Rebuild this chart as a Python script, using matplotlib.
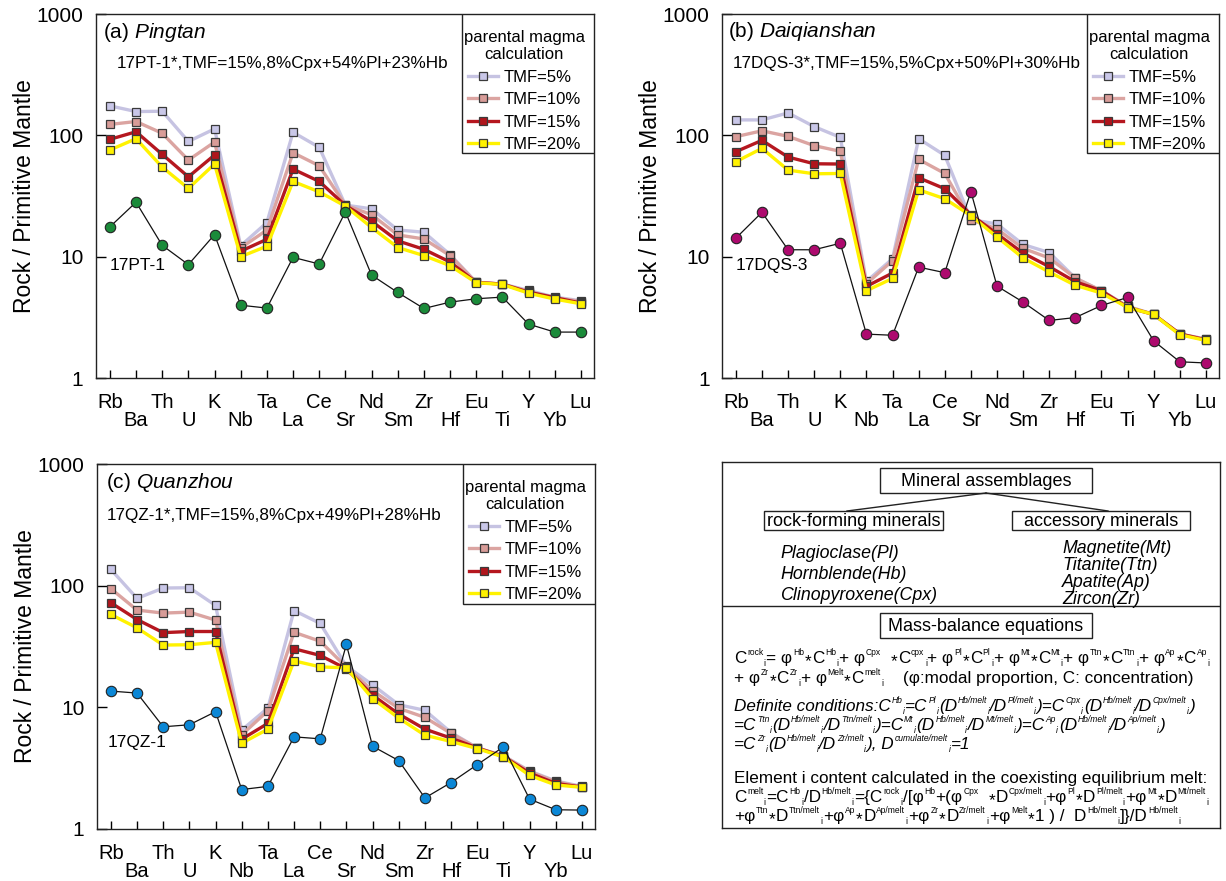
import re
import matplotlib
matplotlib.use("Agg")
import matplotlib.pyplot as plt
from matplotlib.lines import Line2D
from matplotlib.patches import Rectangle
from matplotlib.ticker import NullLocator
from matplotlib.transforms import IdentityTransform

plt.rcParams['font.family'] = ['Liberation Sans', 'DejaVu Sans']
plt.rcParams['mathtext.fontset'] = 'custom'
plt.rcParams['mathtext.rm'] = 'Liberation Sans'
plt.rcParams['mathtext.it'] = 'Liberation Sans:italic'
plt.rcParams['mathtext.bf'] = 'Liberation Sans:bold'

elements = ["Rb", "Ba", "Th", "U", "K", "Nb", "Ta", "La", "Ce", "Sr",
            "Nd", "Sm", "Zr", "Hf", "Eu", "Ti", "Y", "Yb", "Lu"]
tmf_labels = ["TMF=5%", "TMF=10%", "TMF=15%", "TMF=20%"]

# (a) Pingtan
pt_sample = [17.6, 28.1, 12.4, 8.6, 15.2, 3.98, 3.77, 9.87, 8.7, 23.4,
             7.05, 5.07, 3.74, 4.22, 4.5, 4.64, 2.78, 2.39, 2.39]
pt_tmf5 = [175, 157, 158, 89, 113, 12.3, 19.1, 106, 79.6, 26.6,
           24.8, 16.6, 15.9, 10.4, 6.14, 5.94, 5.27, 4.64, 4.33]
pt_tmf10 = [123, 130, 104, 62.5, 88, 11.8, 16.6, 71.9, 56.1, 26.6,
            22.2, 15.1, 14.0, 10.2, 6.14, 5.94, 5.17, 4.6, 4.27]
pt_tmf15 = [92.7, 107, 69.7, 45.5, 68.8, 11.1, 13.9, 52.7, 41.7, 26.4,
            19.6, 13.5, 11.5, 9.03, 6.14, 5.94, 5.1, 4.6, 4.14]
pt_tmf20 = [75.7, 93.8, 54.7, 36.5, 58, 10.0, 12.2, 41.7, 34.2, 26.1,
            17.4, 11.9, 10.2, 8.43, 6.1, 5.9, 5.0, 4.47, 4.09]

# (b) Daiqianshan
dqs_sample = [14.2, 23.2, 11.4, 11.4, 12.9, 2.3, 2.25, 8.2, 7.38, 34.4,
              5.72, 4.22, 2.98, 3.15, 3.96, 4.61, 2.02, 1.36, 1.33]
dqs_tmf5 = [134, 134, 153, 118, 96.2, 6.25, 9.62, 93.8, 68.4, 20.2,
            18.6, 12.6, 10.8, 6.66, 5.24, 3.89, 3.34, 2.3, 2.09]
dqs_tmf10 = [97.5, 109, 98.1, 82.2, 73.8, 5.98, 9.27, 63.4, 48.5, 20.2,
             16.9, 11.7, 9.75, 6.66, 5.24, 3.89, 3.34, 2.3, 2.09]
dqs_tmf15 = [73.3, 90.9, 66.2, 58.3, 58, 5.69, 7.33, 44.7, 36.3, 22.2,
             15.4, 10.7, 8.27, 6.21, 5.24, 3.81, 3.34, 2.31, 2.06]
dqs_tmf20 = [60.6, 78.1, 51.7, 48.2, 48.5, 5.24, 6.62, 35.6, 30.0, 21.8,
             14.5, 9.75, 7.47, 5.8, 5.01, 3.81, 3.34, 2.27, 2.04]

# (c) Quanzhou
qz_sample = [13.6, 13.1, 6.92, 7.19, 9.21, 2.11, 2.24, 5.72, 5.51, 32.9,
             4.79, 3.65, 1.8, 2.41, 3.38, 4.73, 1.76, 1.44, 1.43]
qz_tmf5 = [136, 78.6, 95.6, 96.2, 68.8, 6.5, 9.87, 62.5, 48.9, 21.8,
           15.3, 10.5, 9.45, 6.21, 4.64, 3.99, 3.0, 2.48, 2.24]
qz_tmf10 = [94.4, 63, 59.5, 60.6, 52.1, 5.94, 9.38, 41.4, 34.9, 21.4,
            13.7, 9.81, 8.27, 6.1, 4.64, 3.99, 2.96, 2.45, 2.22]
qz_tmf15 = [72.4, 52.7, 41.1, 42, 42, 5.47, 7.38, 30.3, 26.7, 20.7,
            12.6, 8.81, 6.62, 5.58, 4.64, 3.94, 2.88, 2.37, 2.21]
qz_tmf20 = [58, 45, 32.5, 32.7, 34.2, 5.07, 6.62, 24.1, 21.5, 21.1,
            11.8, 8.16, 5.9, 5.24, 4.58, 3.91, 2.76, 2.30, 2.2]

line_colors = ["#c6c3e2", "#dba4a1", "#b5171f", "#fff200"]
face_colors = ["#c9c7e8", "#d89c98", "#b0151c", "#fff200"]
draw_order = [0, 1, 3, 2]

W, H = 1226, 881
fig = plt.figure(figsize=(W / 100, H / 100), dpi=100)
renderer = fig.canvas.get_renderer()


def ax_rect(l, t, r, b):
    return [l / W, (H - b) / H, (r - l) / W, (b - t) / H]


x = list(range(len(elements)))


def panel(rect, tag, name, title_pos, subtitle, sub_pos, sample_name, sample, tmfs,
          scol, label_pos):
    ax = fig.add_axes(rect)
    ax_h_px = rect[3] * H
    handles = []
    for k in draw_order:
        ax.plot(x, tmfs[k], '-', color=line_colors[k], lw=2.4, marker='s', ms=6.4,
                mfc=face_colors[k], mec='#3a3a3a', mew=0.9, zorder=2 + k * 0.01)
    for k in range(4):
        handles.append(Line2D([], [], color=line_colors[k], lw=2.4, marker='s', ms=6.4,
                              mfc=face_colors[k], mec='#3a3a3a', mew=0.9))
    ax.plot(x, sample, '-', color='#111111', lw=0.9, marker='o', ms=7.5,
            mfc=scol, mec='#222222', mew=0.8, zorder=3)
    ax.set_yscale('log')
    ax.set_ylim(1, 1000)
    ax.set_xlim(-0.53, 18.5)
    ax.set_yticks([1, 10, 100, 1000], labels=['1', '10', '100', '1000'])
    ax.yaxis.set_minor_locator(NullLocator())
    ax.set_xticks(x[0::2], labels=elements[0::2])
    ax.set_xticks(x[1::2], labels=elements[1::2], minor=True)
    ax.tick_params(axis='y', which='both', direction='in', length=7, width=1,
                   pad=9, labelsize=15)
    ax.tick_params(axis='x', which='major', direction='in', length=6, width=1,
                   pad=10.5, labelsize=14.5)
    ax.tick_params(axis='x', which='minor', direction='in', length=6, width=1,
                   pad=23.5, labelsize=14.5)
    for s in ax.spines.values():
        s.set_linewidth(1.0)
        s.set_color('#222222')
    ax.set_ylabel('Rock / Primitive Mantle', fontsize=16.5)
    ax.yaxis.set_label_coords(-0.12, 0.5)
    ax.text(title_pos[0], title_pos[1], tag + r" $\mathit{" + name + "}$",
            transform=ax.transAxes, fontsize=15, va='center', ha='left')
    ax.text(sub_pos[0], sub_pos[1], subtitle, transform=ax.transAxes, fontsize=12.3,
            va='center', ha='left')
    ax.text(label_pos[0], label_pos[1], sample_name, transform=ax.transAxes,
            fontsize=12.5, va='center', ha='left')
    # legend frame and contents
    ax.add_patch(Rectangle((0.734, 0.617), 0.266, 0.383, transform=ax.transAxes,
                           fill=True, fc='white', ec='#222222', lw=1.0, zorder=4))
    leg = ax.legend(handles, tmf_labels, title="parental magma\ncalculation",
                    loc='upper right', bbox_to_anchor=(0.995, 1.0 - 9.0 / ax_h_px),
                    borderaxespad=0, frameon=False,
                    fontsize=12, title_fontsize=12, handlelength=1.8,
                    handletextpad=0.35, labelspacing=0.45, borderpad=0.4)
    leg.set_zorder(5)
    leg.get_title().set_multialignment('center')
    return ax


panel(ax_rect(96, 14, 594, 378), "(a)", "Pingtan", (0.015, 0.95),
      "17PT-1*,TMF=15%,8%Cpx+54%Pl+23%Hb", (0.042, 0.865), "17PT-1", pt_sample,
      [pt_tmf5, pt_tmf10, pt_tmf15, pt_tmf20], "#1b8b3a", (0.028, 0.31))
panel(ax_rect(722, 14, 1219, 378), "(b)", "Daiqianshan", (0.012, 0.952),
      "17DQS-3*,TMF=15%,5%Cpx+50%Pl+30%Hb", (0.022, 0.865), "17DQS-3", dqs_sample,
      [dqs_tmf5, dqs_tmf10, dqs_tmf15, dqs_tmf20], "#ad0a6e", (0.028, 0.308))
panel(ax_rect(97, 464, 595, 829), "(c)", "Quanzhou", (0.018, 0.948),
      "17QZ-1*,TMF=15%,8%Cpx+49%Pl+28%Hb", (0.02, 0.86), "17QZ-1", qz_sample,
      [qz_tmf5, qz_tmf10, qz_tmf15, qz_tmf20], "#0b87d6", (0.022, 0.238))

# (d) text panel
axd = fig.add_axes(ax_rect(722, 462, 1220, 828))
axd.set_xlim(722, 1220)
axd.set_ylim(828, 462)
axd.set_xticks([])
axd.set_yticks([])
for s in axd.spines.values():
    s.set_linewidth(1.0)
    s.set_color('#222222')


def box(l, t, r, b, label, fs=13):
    axd.add_patch(Rectangle((l, t), r - l, b - t, fill=False, ec='#222222', lw=1.0))
    axd.text((l + r) / 2, (t + b) / 2 + 0.5, label, ha='center', va='center', fontsize=fs)


box(880, 468, 1092, 493, "Mineral assemblages")
axd.plot([986, 847], [493, 511], color='#222222', lw=1.0)
axd.plot([986, 1108], [493, 511], color='#222222', lw=1.0)
box(764, 511, 943, 530, "rock-forming minerals")
box(1012, 511, 1190, 530, "accessory minerals")
for txt, yy in [("Plagioclase(Pl)", 553), ("Hornblende(Hb)", 574), ("Clinopyroxene(Cpx)", 595)]:
    axd.text(780, yy, txt, style='italic', fontsize=12.8, va='center', ha='left')
for txt, yy in [("Magnetite(Mt)", 548), ("Titanite(Ttn)", 565), ("Apatite(Ap)", 582),
                ("Zircon(Zr)", 599)]:
    axd.text(1062, yy, txt, style='italic', fontsize=12.8, va='center', ha='left')
axd.plot([722, 1220], [606, 606], color='#222222', lw=1.0)
box(880, 613, 1092, 638, "Mass-balance equations")

TOKEN = re.compile(r"\^<([^>]*)>|_<([^>]*)>|([^^_<>]+)")


def rich(x0, y_center, s, fs, italic=False, script_scale=0.5, gap=0.6):
    """Lay out text with small raised/lowered pieces, in figure pixels."""
    px = fs * 100 / 72.0
    ybase = (H - y_center) - 0.36 * px
    xpos = x0
    style = 'italic' if italic else 'normal'
    pieces = []
    for sup, sub, base in TOKEN.findall(s):
        if base:
            for part in re.split(r"(\*)", base):
                if part == "*":
                    pieces.append((part, fs, -0.2 * px))
                elif part:
                    pieces.append((part, fs, 0.0))
        elif sup:
            pieces.append((sup, fs * script_scale, 0.45 * px))
        else:
            pieces.append((sub, fs * script_scale, -0.18 * px))
    for txt, size, dy in pieces:
        sp = 0.278 * size * 100 / 72.0
        lead = len(txt) - len(txt.lstrip(' '))
        trail = len(txt) - len(txt.rstrip(' '))
        core = txt.strip(' ')
        xpos += lead * sp
        if core:
            t = fig.text(xpos, ybase + dy, core, fontsize=size, style=style,
                         transform=IdentityTransform(), va='baseline', ha='left')
            xpos += t.get_window_extent(renderer=renderer).width + gap
        xpos += trail * sp


eq_lines = [
    ("C^<rock>_<i>= φ^<Hb>*C^<Hb>_<i>+ φ^<Cpx> *C^<cpx>_<i>+ φ^<Pl>*C^<Pl>_<i>+ φ^<Mt>*C^<Mt>_<i>"
     "+ φ^<Ttn>*C^<Ttn>_<i>+ φ^<Ap>*C^<Ap>_<i>", 657, False, 12.3),
    ("+ φ^<Zr>*C^<Zr>_<i>+ φ^<Melt>*C^<melt>_<i>    (φ:modal proportion, C: concentration)",
     677, False, 12.3),
    ("Definite conditions:C^<Hb>_<i>=C^<Pl>_<i>(D^<Hb/melt>_<i>/D^<Pl/melt>_<i>)"
     "=C^<Cpx>_<i>(D^<Hb/melt>_<i>/D^<Cpx/melt>_<i>)", 705, True, 12.3),
    ("=C^<Ttn>_<i>(D^<Hb/melt>_<i>/D^<Ttn/melt>_<i>)=C^<Mt>_<i>(D^<Hb/melt>_<i>/D^<Mt/melt>_<i>)"
     "=C^<Ap>_<i>(D^<Hb/melt>_<i>/D^<Ap/melt>_<i>)", 724, True, 12.3),
    ("=C^<Zr>_<i>(D^<Hb/melt>_<i>/D^<Zr/melt>_<i>), D^<cumulate/melt>_<i>=1", 743, True, 12.3),
    ("Element i content calculated in the coexisting equilibrium melt:", 777, False, 12.3),
    ("C^<melt>_<i>=C^<Hb>_<i>/D^<Hb/melt>_<i>={C^<rock>_<i>/[φ^<Hb>+(φ^<Cpx> *D^<Cpx/melt>_<i>"
     "+φ^<Pl>*D^<Pl/melt>_<i>+φ^<Mt>*D^<Mt/melt>_<i>", 796, False, 12.3),
    ("+φ^<Ttn>*D^<Ttn/melt>_<i>+φ^<Ap>*D^<Ap/melt>_<i>+φ^<Zr>*D^<Zr/melt>_<i>+φ^<Melt>*1 ) / "
     " D^<Hb/melt>_<i>]}/D^<Hb/melt>_<i>", 815, False, 12.3),
]
for s, yy, it, fs in eq_lines:
    rich(734, yy, s, fs, italic=it)

fig.savefig("out.png", dpi=100)
